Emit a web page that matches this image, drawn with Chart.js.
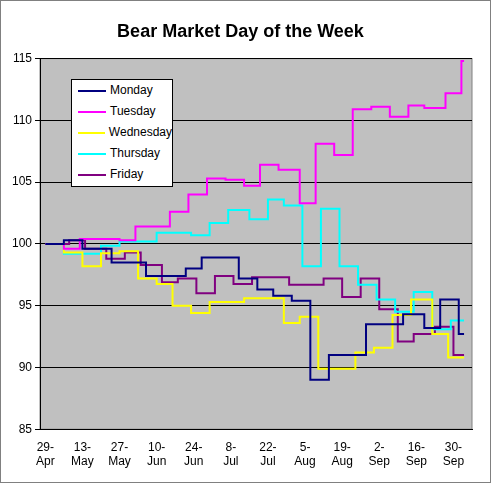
<!DOCTYPE html>
<html><head><meta charset="utf-8">
<script src="https://cdn.jsdelivr.net/npm/chart.js@4"></script>
<style>
body{margin:0;background:#fff;font-family:"Liberation Sans",Arial,sans-serif}
#wrap{position:relative;width:489px;height:481px;border:1px solid #808080}
#legend{position:absolute;left:70px;top:78px;width:100px;height:106px;background:#fff;border:1px solid #000;font-size:12px}
#legend div{height:21px;line-height:21px;padding-left:6px;display:flex;align-items:center}
#legend span{display:inline-block;width:28px;height:2px;margin-right:4px}
</style></head><body>
<div id="wrap"><canvas id="c" width="489" height="481"></canvas><div id="legend"></div></div>
<script>
const tickLabels=["29-Apr","13-May","27-May","10-Jun","24-Jun","8-Jul","22-Jul","5-Aug","19-Aug","2-Sep","16-Sep","30-Sep"];
const monDays=[0,7,14,25,38,53,59,73,80,86,93,100,107,121,135,143,149,156,158];
const monVals=[100,100.3,99.6,98.5,97.4,98,98.9,97.2,96.3,95.8,95.4,89,91,93.5,94.3,93.2,95.5,92.7,92.7];
const tueDays=[0,7,13,28,34,47,54,61,68,75,81,88,96,102,109,116,123,130,137,143,151,157,158];
const tueVals=[100,99.6,100.4,100.3,101.4,102.6,104,105.3,105.2,104.7,106.4,106,103.3,108.1,107.2,110.9,111.1,110.3,111.2,111,112.2,114.8,114.8];
const wedDays=[0,7,14,21,28,35,42,48,55,62,75,90,96,103,117,124,131,138,146,152,158];
const wedVals=[100,99.3,98.2,99.25,99.4,97.2,96.75,95,94.4,95.3,95.6,93.6,94.1,89.9,91.2,91.6,94.25,95.5,92.7,90.8,90.8];
const thuDays=[0,7,21,28,42,55,62,69,77,84,90,97,104,111,118,125,132,139,146,153,158];
const thuVals=[100,99.2,99.85,100.2,100.9,100.7,101.7,102.75,102,103.6,103.1,98.2,102.85,98.2,96.7,95.5,94.5,96.1,93.1,93.8,93.8];
const friDays=[0,9,15,23,30,36,44,50,57,64,71,78,92,105,112,119,126,133,139,147,154,158];
const friVals=[100,100.3,99.6,98.8,99.3,98.3,96.9,97.2,96,97.4,96.75,97.3,96.7,97.2,95.7,97.2,94.7,92.1,92.7,93.3,91,91];
const series=[["Monday",monDays,monVals,"#000080"],["Tuesday",tueDays,tueVals,"#ff00ff"],["Wednesday",wedDays,wedVals,"#ffff00"],["Thursday",thuDays,thuVals,"#00ffff"],["Friday",friDays,friVals,"#800080"]];
const lg=document.getElementById('legend');
series.forEach(s=>{const d=document.createElement('div');d.innerHTML='<span style="background:'+s[3]+'"></span>'+s[0];lg.appendChild(d);});
const bg={id:'bg',beforeDraw(c){const a=c.chartArea,x=c.ctx;x.save();x.fillStyle='#c0c0c0';x.fillRect(a.left,a.top,a.width,a.height);x.strokeStyle='#808080';x.strokeRect(a.left,a.top,a.width,a.height);x.restore();}};
new Chart(document.getElementById('c'),{type:'line',
data:{datasets:series.map(s=>({label:s[0],data:s[1].map((d,i)=>({x:d,y:s[2][i]})),borderColor:s[3],borderWidth:2,pointRadius:0,stepped:'before',fill:false}))},
options:{responsive:false,animation:false,layout:{padding:{top:8,right:18,left:8,bottom:10}},
plugins:{legend:{display:false},title:{display:true,text:'Bear Market Day of the Week',font:{family:'Liberation Sans',size:18,weight:'bold'},color:'#000',padding:{top:12,bottom:16}},tooltip:{enabled:false}},
scales:{x:{type:'linear',min:-2,max:161,afterBuildTicks(ax){ax.ticks=tickLabels.map((t,i)=>({value:i*14}));},
ticks:{autoSkip:false,maxRotation:0,color:'#000',font:{family:'Liberation Sans',size:12},callback:(v)=>{const t=tickLabels[Math.round(v/14)];const p=t.split('-');return [p[0]+'-',p[1]];}},
grid:{display:false,drawTicks:true},border:{color:'#000'}},
y:{min:85,max:115,ticks:{stepSize:5,color:'#000',font:{family:'Liberation Sans',size:12}},grid:{color:'#000',lineWidth:1,tickColor:'#000',tickLength:5},border:{color:'#000'}}}},
plugins:[bg]});
</script></body></html>
